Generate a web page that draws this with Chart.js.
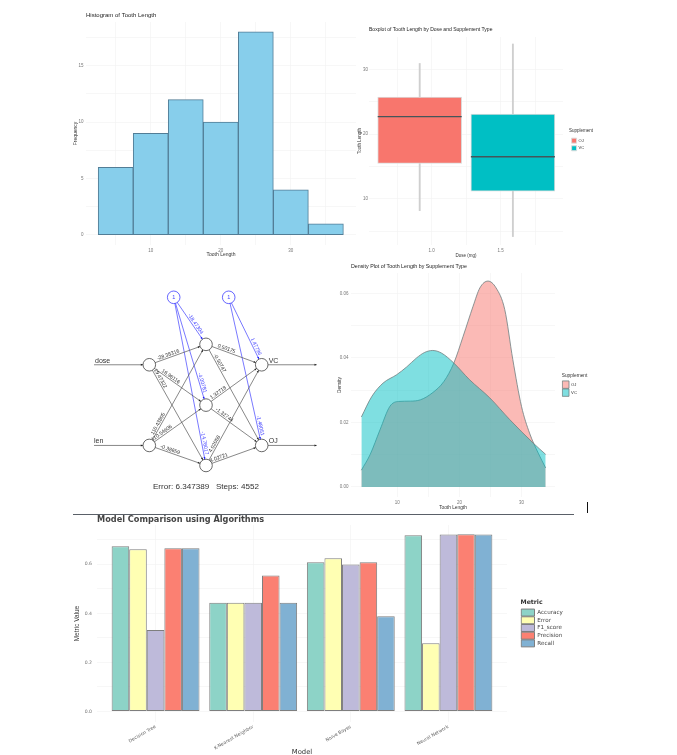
<!DOCTYPE html>
<html>
<head>
<meta charset="utf-8">
<script src="https://cdn.jsdelivr.net/npm/chart.js@4"></script>
<style>
html,body{margin:0;padding:0;background:#fff;width:677px;height:755px;overflow:hidden}
canvas{position:absolute;filter:blur(.4px)}
.rule{position:absolute}
</style>
</head>
<body>
<div class="rule" style="left:73px;top:514px;width:501px;height:1px;background:#5a6068"></div>
<div class="rule" style="left:587px;top:502px;width:1px;height:11px;background:#111"></div>
<canvas id="hist"></canvas>
<canvas id="box"></canvas>
<canvas id="net"></canvas>
<canvas id="dens"></canvas>
<canvas id="model"></canvas>
<script>
/* ---------- data ---------- */
const histCenters = [5,10,15,20,25,30,35];
const histCounts  = [6,9,12,10,18,4,1];
const histXLabels = [10,20,30];
const histYLabels = [0,5,10,15];

const supplements = ['OJ','VC'];
const boxCenters  = [0.913,1.588];
const boxMin      = [8.2,4.2];
const boxQ1       = [15.5,11.2];
const boxMedian   = [22.7,16.5];
const boxQ3       = [25.7,23.1];
const boxMax      = [30.9,33.9];
const boxXLabels  = [1.0,1.5];
const boxYLabels  = [10,20,30];

const netNames = ['dose','len','H1','H2','H3','VC','OJ','B1','B2'];
const netX     = [59.3,59.3,116,116,116,171.7,171.7,83.7,138.7];
const netY     = [79.7,160.3,59.3,120,180.3,79.7,160.3,12.3,12.3];
const edgeFrom = ['dose','dose','dose','len','len','len','H1','H1','H2','H2','H3','H3','B1','B1','B1','B2','B2'];
const edgeTo   = ['H1','H2','H3','H1','H2','H3','VC','OJ','VC','OJ','VC','OJ','H1','H2','H3','VC','OJ'];
const edgeText = ['-28.35316','16.96116','19.47322','110.43805','110.54606','-0.38659','0.50175','-0.50747','1.32718','-1.32744','4.02058','4.02721','-18.47304','-4.00781','-14.78017','1.47796','-1.48051'];
const edgeAt   = [0.35,0.35,0.15,0.2,0.25,0.35,0.35,0.2,0.25,0.3,0.2,0.25,0.6,0.8,0.87,0.75,0.87];
const netSummary = 'Error: 6.347389   Steps: 4552';

const ojX = [4.2,5.6,7.2,8.8,10.2,12.1,13.7,15.6,17.5,19.1,20.6,22.2,23.3,24.6,25.9,27.3,28.6,30,31.3,32.7,33.9];
const ojY = [.0052,.0100,.0177,.0250,.0265,.0266,.0270,.0291,.0327,.0384,.0467,.0560,.0617,.0638,.0617,.0550,.0395,.0250,.0167,.0105,.0059];
const vcX = [4.2,5.9,7.7,9.9,11.5,13.1,14.4,15.7,17.1,19.1,21.6,24.9,28.1,32,33.9];
const vcY = [.0217,.0281,.0322,.0348,.0372,.0400,.0417,.0423,.0415,.0384,.0333,.0276,.0209,.0134,.0101];
const densXLabels = [10,20,30];
const densYLabels = [0,.02,.04,.06];

const models    = ['Decision Tree','K-Nearest Neighbor','Naive Bayes','Neural Network'];
const accuracy  = [.673,.4435,.608,.718];
const errorRate = [.661,.4435,.624,.2775];
const f1Score   = [.332,.4435,.599,.721];
const precision = [.665,.554,.608,.722];
const recall    = [.665,.4435,.388,.721];
const modelYLabels = [0,.2,.4,.6];

/* ---------- helpers ---------- */
Chart.defaults.font.family = '"Liberation Sans", Arial, sans-serif';
Chart.defaults.animation = false;
Chart.defaults.responsive = false;
Chart.defaults.layout.autoPadding = false;
const GRID = '#f4f4f4';
const TICK = '#777';
const TEXT = '#333';
const near = (a,b)=>Math.abs(a-b)<1e-6;

function frame(id,g){
  const c=document.getElementById(id);
  const titleLH=g.titleSize*1.2, xLH=g.xSize*1.2, yLH=g.ySize*1.2;
  const left=Math.round(g.yTitleX-yLH/2), top=Math.round(g.titleY-titleLH/2);
  const bottom=Math.round(g.xTitleY+xLH/2), right=g.right+(g.legendW||0);
  c.style.left=left+'px'; c.style.top=top+'px';
  c.width=right-left; c.height=bottom-top;
  return {yW:g.left-left, xH:bottom-g.bottom, titlePad:{top:0,bottom:g.top-top-titleLH}};
}
function legendFit(width,dx){
  return {id:'legendFit',
    beforeLayout(ch){
      const l=ch.legend;
      if(!l.$fitted){const fit=l.fit;l.fit=function(){fit.call(this);this.width=width;};l.$fitted=true;}
    },
    afterLayout(ch){ch.legend.left+=dx;ch.legend.right+=dx;}};
}
function stepTicks(step){
  return s=>{s.ticks=s.ticks.filter(t=>near(t.value/step,Math.round(t.value/step)));};
}
function xAxis(f,g,o){
  return {type:'linear',offset:false,min:o.min,max:o.max,border:{display:false},
    grid:{color:GRID,lineWidth:.7,drawTicks:false,offset:false},
    afterBuildTicks:stepTicks(o.step),
    afterFit:s=>{s.height=f.xH;},
    title:{display:true,text:o.title,color:o.titleColor||TEXT,padding:0,font:o.titleFont||{size:g.xSize}},
    ticks:Object.assign({stepSize:o.step,autoSkip:false,maxRotation:0,minRotation:0,padding:o.pad,color:TICK,font:{size:4.5},
      callback:v=>o.labels.some(l=>near(l,v))?o.fmt(v):''},o.ticks||{})};
}
function yAxis(f,g,o){
  return {min:o.min,max:o.max,border:{display:false},
    grid:{color:GRID,lineWidth:.7,drawTicks:false},
    afterBuildTicks:stepTicks(o.step),
    afterFit:s=>{s.width=f.yW;},
    title:{display:true,text:o.title,color:o.titleColor||TEXT,padding:0,font:o.titleFont||{size:g.ySize}},
    ticks:{stepSize:o.step,autoSkip:false,padding:o.pad,color:TICK,font:o.tickFont||{size:4.5},
      callback:v=>o.labels.some(l=>near(l,v))?o.fmt(v):''}};
}
function titleCfg(f,g,text,font,color){
  return {display:true,text,align:'start',fullSize:false,color:color||'#222',padding:f.titlePad,font:font||{size:g.titleSize,weight:'normal'}};
}

/* ---------- histogram ---------- */
{
  const g={left:86,right:356,top:22,bottom:245,yTitleX:75.7,xTitleY:255,titleY:15.7,titleSize:6,xSize:5,ySize:5};
  const f=frame('hist',g);
  new Chart('hist',{type:'bar',
    data:{datasets:[{label:'Frequency',data:histCenters.map((x,i)=>({x,y:histCounts[i]})),
      backgroundColor:'#87CEEB',borderColor:'#527d96',borderWidth:1,borderSkipped:false,barPercentage:1,categoryPercentage:1}]},
    options:{plugins:{legend:{display:false},tooltip:{enabled:false},title:titleCfg(f,g,'Histogram of Tooth Length')},
      scales:{
        x:xAxis(f,g,{min:.76,max:39.3,step:5,labels:histXLabels,fmt:v=>String(v),title:'Tooth Length',pad:3.5}),
        y:yAxis(f,g,{min:-.886,max:18.87,step:2.5,labels:histYLabels,fmt:v=>String(v),title:'Frequency',pad:2.5})}}});
}

/* ---------- boxplot ---------- */
{
  const g={left:369,right:563,top:37,bottom:245,yTitleX:360,xTitleY:255,titleY:29.7,titleSize:5.05,xSize:4.5,ySize:4.5,legendW:40};
  const f=frame('box',g);
  const fills=['#F8766D','#00BFC4'];
  const bars=supplements.map((s,i)=>({label:s,data:[{x:boxCenters[i],y:[boxQ1[i],boxQ3[i]]}],
    backgroundColor:fills[i],borderColor:'#dcdcdc',borderWidth:1,borderSkipped:false,barThickness:84,grouped:false,order:2}));
  const whisk={label:'whisker',data:supplements.map((s,i)=>({x:boxCenters[i],y:[boxMin[i],boxMax[i]]})),
    backgroundColor:'#cfcfcf',borderWidth:0,barThickness:1.2,grouped:false,order:3};
  const med={type:'scatter',label:'median',data:supplements.map((s,i)=>({x:boxCenters[i],y:boxMedian[i]})),
    pointStyle:'line',pointRadius:42,pointBorderColor:'#44565a',pointBorderWidth:1.4,backgroundColor:'#444',order:1};
  new Chart('box',{type:'bar',data:{datasets:[whisk,...bars,med]},
    plugins:[legendFit(40,6)],
    options:{plugins:{tooltip:{enabled:false},title:titleCfg(f,g,'Boxplot of Tooth Length by Dose and Supplement Type'),
        legend:{position:'right',fullSize:false,
          title:{display:true,text:'Supplement',position:'start',color:TEXT,padding:{top:0,bottom:1.5},font:{size:4.5}},
          labels:{boxWidth:5,boxHeight:5,padding:2.6,color:TEXT,font:{size:4},filter:it=>supplements.includes(it.text),sort:(a,b)=>a.datasetIndex-b.datasetIndex}}},
      scales:{
        x:xAxis(f,g,{min:.5457,max:1.951,step:.25,labels:boxXLabels,fmt:v=>v.toFixed(1),title:'Dose (mg)',pad:3.5}),
        y:yAxis(f,g,{min:2.9,max:34.98,step:5,labels:boxYLabels,fmt:v=>String(v),title:'Tooth Length',pad:1})}}});
}

/* ---------- neural network ---------- */
{
  const c=document.getElementById('net');
  c.style.left='90px'; c.style.top='285px'; c.width=232; c.height=210;
  const BLUE='#3f3fff', DARK='#555', R=6.3;
  const idx=n=>netNames.indexOf(n);
  const pt=n=>({x:netX[idx(n)],y:netY[idx(n)]});
  const leadIn=4, leadOut=226.7;
  const ds=[];
  edgeFrom.forEach((a,i)=>{
    ds.push({data:[pt(a),pt(edgeTo[i])],showLine:true,borderColor:a[0]==='B'?BLUE:DARK,borderWidth:.7,pointRadius:0,order:5});
  });
  ['dose','len'].forEach(n=>ds.push({data:[{x:leadIn,y:pt(n).y},pt(n)],showLine:true,borderColor:DARK,borderWidth:.7,pointRadius:0,order:5}));
  ['VC','OJ'].forEach(n=>ds.push({data:[pt(n),{x:leadOut,y:pt(n).y}],showLine:true,borderColor:DARK,borderWidth:.7,pointRadius:0,order:5}));
  const plain=netNames.filter(n=>n[0]!=='B'), bias=netNames.filter(n=>n[0]==='B');
  ds.push({data:plain.map(pt),pointRadius:R,pointBackgroundColor:'#fff',pointBorderColor:'#444',pointBorderWidth:.8,order:1});
  ds.push({data:bias.map(pt),pointRadius:R,pointBackgroundColor:'#fff',pointBorderColor:BLUE,pointBorderWidth:.8,order:1});
  const deco={id:'netDeco',afterDatasetsDraw(ch){
    const ctx=ch.ctx,X=ch.scales.x,Y=ch.scales.y;
    const px=p=>({x:X.getPixelForValue(p.x),y:Y.getPixelForValue(p.y)});
    const arrow=(from,to,col,back)=>{
      const ang=Math.atan2(to.y-from.y,to.x-from.x);
      const tx=to.x-Math.cos(ang)*back, ty=to.y-Math.sin(ang)*back;
      ctx.save();ctx.translate(tx,ty);ctx.rotate(ang);ctx.fillStyle=col;
      ctx.beginPath();ctx.moveTo(0,0);ctx.lineTo(-2.2,-1);ctx.lineTo(-2.2,1);ctx.closePath();ctx.fill();ctx.restore();
    };
    edgeFrom.forEach((a,i)=>{
      const p=px(pt(a)),q=px(pt(edgeTo[i])),col=a[0]==='B'?'#1212ff':'#222';
      arrow(p,q,col,R);
      const t=edgeAt[i],ang0=Math.atan2(q.y-p.y,q.x-p.x);
      let ang=ang0; if(Math.abs(ang)>Math.PI/2) ang+=Math.PI;
      ctx.save();ctx.translate(p.x+(q.x-p.x)*t,p.y+(q.y-p.y)*t);ctx.rotate(ang);
      ctx.fillStyle=a[0]==='B'?BLUE:'#333';ctx.font='5.2px "Liberation Sans"';ctx.textAlign='center';ctx.textBaseline='bottom';
      ctx.fillText(edgeText[i],0,-.3);ctx.restore();
    });
    ['dose','len'].forEach(n=>{const p=px(pt(n));arrow({x:p.x-20,y:p.y},p,'#222',R);});
    ['VC','OJ'].forEach(n=>{const p=px(pt(n));const e={x:X.getPixelForValue(leadOut),y:p.y};arrow(p,e,'#222',0);});
    ctx.save();ctx.font='7px "Liberation Sans"';ctx.fillStyle='#333';ctx.textBaseline='bottom';ctx.textAlign='left';
    ['dose','len'].forEach(n=>{const p=px(pt(n));ctx.fillText(n,X.getPixelForValue(n==='dose'?5:4),p.y-.5);});
    ['VC','OJ'].forEach(n=>{const p=px(pt(n));ctx.fillText(n,p.x+7,p.y-.5);});
    ctx.fillStyle=BLUE;ctx.textAlign='center';ctx.textBaseline='middle';ctx.font='5.5px "Liberation Sans"';
    bias.forEach(n=>{const p=px(pt(n));ctx.fillText('1',p.x,p.y);});
    ctx.restore();
  }};
  new Chart('net',{type:'scatter',data:{datasets:ds},plugins:[deco],
    options:{plugins:{legend:{display:false},tooltip:{enabled:false},
        title:{display:true,text:netSummary,position:'bottom',color:'#333',padding:{top:2.1,bottom:3},font:{size:8.1,weight:'normal'}}},
      scales:{x:{display:false,min:0,max:232},y:{display:false,reverse:true,min:0,max:195}}}});
}

/* ---------- density ---------- */
{
  const g={left:351,right:555,top:273,bottom:497,yTitleX:340,xTitleY:508.3,titleY:265.7,titleSize:5.3,xSize:4.8,ySize:4.8,legendW:45};
  const f=frame('dens',g);
  const mk=(label,xs,ys,col,order)=>({label,order,data:xs.map((x,i)=>({x,y:ys[i]})),fill:'origin',backgroundColor:col,
    borderColor:'#6f7f80',borderWidth:.8,pointRadius:0,cubicInterpolationMode:'monotone'});
  new Chart('dens',{type:'line',
    data:{datasets:[mk('OJ',ojX,ojY,'rgba(248,118,109,.5)',2),mk('VC',vcX,vcY,'rgba(0,191,196,.5)',1)]},
    plugins:[legendFit(45,6.7)],
    options:{plugins:{tooltip:{enabled:false},title:titleCfg(f,g,'Density Plot of Tooth Length by Supplement Type'),
        legend:{position:'right',fullSize:false,
          title:{display:true,text:'Supplement',position:'start',color:TEXT,padding:{top:0,bottom:1.5},font:{size:4.8}},
          labels:{boxWidth:6.7,boxHeight:7.4,padding:.6,color:TEXT,font:{size:4.2},sort:(a,b)=>a.datasetIndex-b.datasetIndex}}},
      scales:{
        x:xAxis(f,g,{min:2.53,max:35.4,step:5,labels:densXLabels,fmt:v=>String(v),title:'Tooth Length',pad:3}),
        y:yAxis(f,g,{min:-.0031,max:.0663,step:.01,labels:densYLabels,fmt:v=>v.toFixed(2),title:'Density',pad:2.5})}}});
}

/* ---------- model comparison ---------- */
{
  const g={left:97,right:507,top:525,bottom:722,yTitleX:77,xTitleY:751.5,titleY:519.7,titleSize:8.2,xSize:6.8,ySize:6.5,legendW:90};
  const f=frame('model',g);
  const wide='"DejaVu Sans", sans-serif';
  const series=[['Accuracy',accuracy,'#8DD3C7'],['Error',errorRate,'#FFFFB3'],['F1_score',f1Score,'#BEBADA'],['Precision',precision,'#FB8072'],['Recall',recall,'#80B1D3']];
  const xa=xAxis(f,g,{min:.4,max:4.6,step:1,labels:[1,2,3,4],fmt:v=>models[v-1],title:'Model',pad:2,titleFont:{size:g.xSize,family:wide},
    ticks:{maxRotation:30,minRotation:30,font:{size:4.6,family:wide},color:'#666'}});
  new Chart('model',{type:'bar',
    data:{datasets:series.map(s=>({label:s[0],data:s[1].map((y,i)=>({x:i+1,y})),backgroundColor:s[2],borderColor:'#7e7e7e',borderWidth:1,borderSkipped:false,barPercentage:1,categoryPercentage:.9}))},
    plugins:[legendFit(90,13.5)],
    options:{plugins:{tooltip:{enabled:false},
        title:titleCfg(f,g,'Model Comparison using Algorithms',{size:g.titleSize,family:wide,weight:'bold'},'#444'),
        legend:{position:'right',fullSize:false,
          title:{display:true,text:'Metric',position:'start',color:'#333',padding:{top:0,bottom:1.5},font:{size:6.2,family:wide,weight:'bold'}},
          labels:{boxWidth:13.3,boxHeight:7,padding:.7,color:'#444',font:{size:5.6,family:wide}}}},
      scales:{x:xa,
        y:yAxis(f,g,{min:-.043,max:.76,step:.1,labels:modelYLabels,fmt:v=>v.toFixed(1),title:'Metric Value',pad:5,
          titleFont:{size:g.ySize,family:'"Liberation Sans Narrow","Liberation Sans"'},tickFont:{size:4.6,family:wide}})}}});
}
</script>
</body>
</html>
